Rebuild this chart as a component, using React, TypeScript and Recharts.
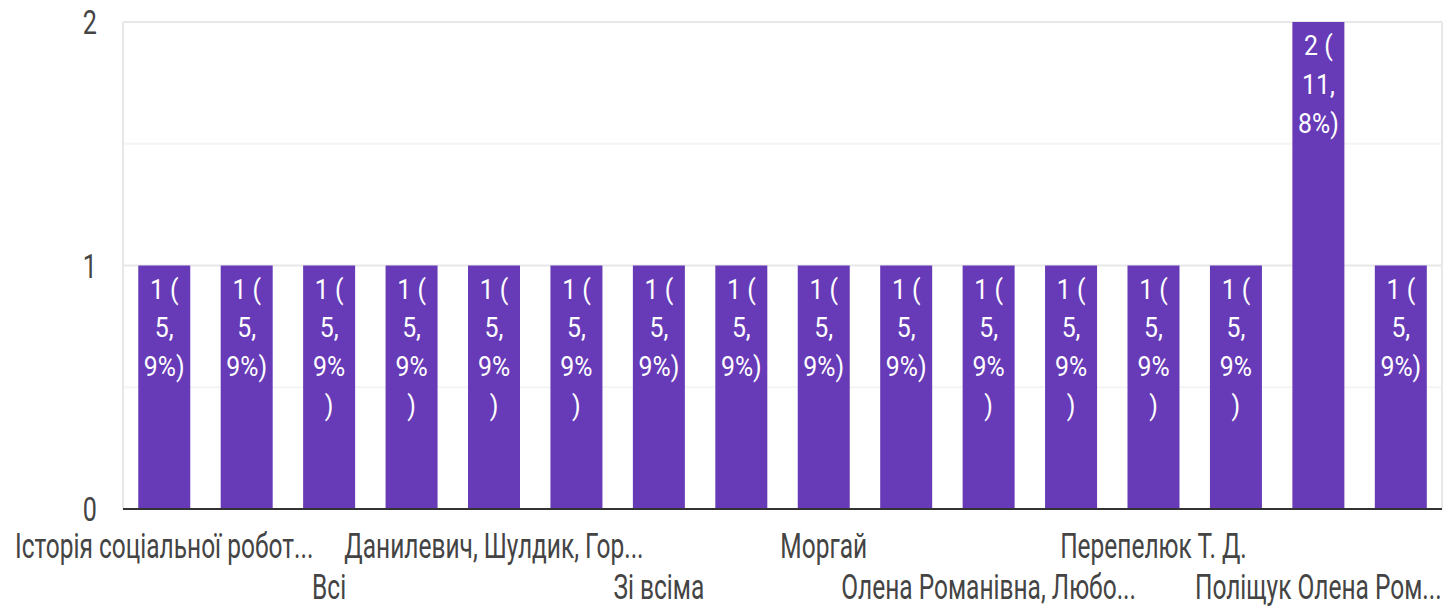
import React from "react";
import { BarChart, Bar, XAxis, YAxis, CartesianGrid, LabelList } from "recharts";

const categories = [
  "Історія соціальної робот...",
  "Всі викладачі",
  "Всі",
  "Гуменюк",
  "Данилевич, Шулдик, Гор...",
  "Дячук",
  "Зі всіма",
  "Ковальчук",
  "Моргай",
  "Олена Романівна",
  "Олена Романівна, Любо...",
  "Пасічник",
  "Перепелюк Т. Д.",
  "Петрук",
  "Поліщук Олена Ром...",
  "Шулдик",
];
const counts = [1, 1, 1, 1, 1, 1, 1, 1, 1, 1, 1, 1, 1, 1, 2, 1];
// bars where the closing bracket drops to its own line
const wrappedParen = [2, 3, 4, 5, 10, 11, 12, 13];
const yTicks = [0, 1, 2];
const minorTicks = [0.5, 1.5];

const yMax = yTicks[yTicks.length - 1];
const total = counts.reduce((a, b) => a + b, 0);
const data = categories.map((name, i) => ({ name, value: counts[i] }));

const PURPLE = "#673ab7";
const FONT = "Roboto, 'Noto Sans', sans-serif";

const XTick = (props: any) => {
  const { x, y, payload, index } = props;
  if (index % 2 !== 0) return null;
  const row = (index / 2) % 2;
  const dy = row === 0 ? 41 : 82;
  return (
    <g transform={`translate(${x},${y + dy}) scale(0.7,1)`}>
      <text x={0} y={0} textAnchor="middle" fill="#444" fontSize={35} fontFamily={FONT}>
        {payload.value}
      </text>
    </g>
  );
};

const YTick = (props: any) => {
  const { y, payload } = props;
  return (
    <g transform={`translate(97,${y + 12}) scale(0.74,1)`}>
      <text x={0} y={0} textAnchor="end" fill="#444" fontSize={34} fontFamily={FONT}>
        {payload.value}
      </text>
    </g>
  );
};

const BarText = (props: any) => {
  const { x, y, width, value, index } = props;
  const pct = ((value / total) * 100).toFixed(1).split(".");
  const lines = [`${value} (`, `${pct[0]},`];
  if (wrappedParen.includes(index)) {
    lines.push(`${pct[1]}%`, ")");
  } else {
    lines.push(`${pct[1]}%)`);
  }
  return (
    <g transform={`translate(${x + width / 2},${y + 33}) scale(0.92,1)`}>
      <text x={0} y={0} textAnchor="middle" fill="#fff" fontSize={27} fontFamily={FONT}>
        {lines.map((l, i) => (
          <tspan key={i} x={0} dy={i === 0 ? 0 : 39}>
            {l}
          </tspan>
        ))}
      </text>
    </g>
  );
};

export default function App() {
  return (
    <div style={{ position: "absolute", left: 0, top: 0, background: "#fff" }}>
      <BarChart
        width={1447}
        height={607}
        data={data}
        margin={{ top: 22, right: 5, bottom: 68, left: 0 }}
        barCategoryGap="18.5%"
      >
        <CartesianGrid
          stroke="#f4f4f4"
          strokeWidth={2}
          vertical={false}
          horizontalCoordinatesGenerator={({ offset }: any) =>
            minorTicks.map((t) => offset.top + offset.height * (1 - t / yMax))
          }
        />
        <CartesianGrid
          stroke="#e8e8e8"
          strokeWidth={2}
          verticalCoordinatesGenerator={({ offset }: any) => [offset.left, offset.left + offset.width]}
        />
        <XAxis
          dataKey="name"
          height={30}
          interval={0}
          tickLine={false}
          axisLine={{ stroke: "#333", strokeWidth: 2 }}
          tick={<XTick />}
        />
        <YAxis
          width={123}
          domain={[0, yMax]}
          ticks={yTicks}
          axisLine={false}
          tickLine={false}
          tick={<YTick />}
        />
        <Bar dataKey="value" fill={PURPLE} isAnimationActive={false}>
          <LabelList dataKey="value" content={<BarText />} />
        </Bar>
      </BarChart>
    </div>
  );
}
